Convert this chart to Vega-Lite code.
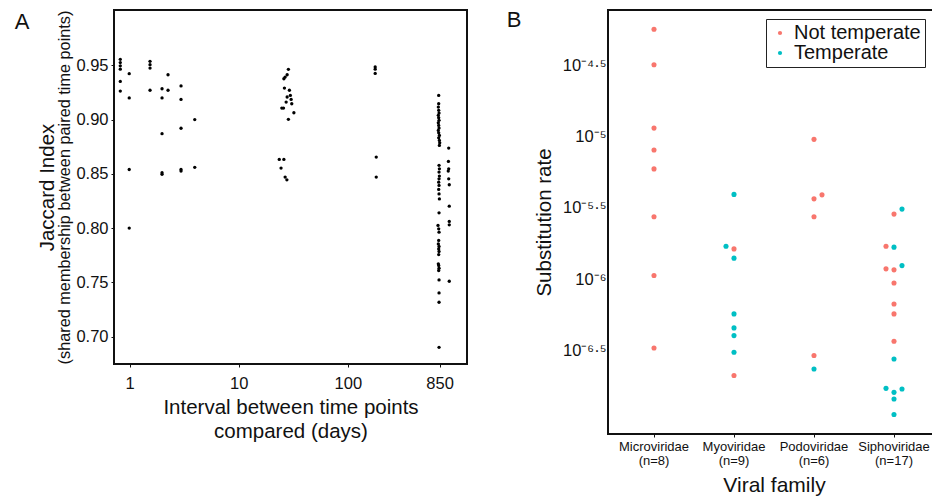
{
  "$schema": "https://vega.github.io/schema/vega-lite/v6.json",
  "background": "white",
  "padding": {"left": 13, "top": 8, "right": 0, "bottom": 0},
  "spacing": 37,
  "resolve": {"legend": {"color": "independent"}, "scale": {"color": "independent"}},
  "config": {
    "font": "Liberation Sans",
    "view": {"stroke": "#111", "strokeWidth": 2},
    "axis": {"grid": false, "domain": false, "tickColor": "#111", "labelColor": "#111", "titleColor": "#111", "titleFontWeight": "normal"},
    "title": {"fontWeight": "normal", "color": "#111"}
  },
  "datasets": {
    "jaccard": [
      {"days": 0.82, "jaccard": 0.9555}, {"days": 0.82, "jaccard": 0.9525}, {"days": 0.82, "jaccard": 0.9495}, {"days": 0.82, "jaccard": 0.9465}, {"days": 0.82, "jaccard": 0.9352}, {"days": 0.82, "jaccard": 0.9263},
      {"days": 0.99, "jaccard": 0.9423}, {"days": 0.99, "jaccard": 0.92}, {"days": 0.99, "jaccard": 0.854}, {"days": 0.99, "jaccard": 0.8},
      {"days": 1.536, "jaccard": 0.9537}, {"days": 1.536, "jaccard": 0.9506}, {"days": 1.536, "jaccard": 0.9475}, {"days": 1.536, "jaccard": 0.927},
      {"days": 1.979, "jaccard": 0.9284}, {"days": 1.979, "jaccard": 0.92}, {"days": 1.979, "jaccard": 0.887}, {"days": 1.979, "jaccard": 0.851}, {"days": 1.979, "jaccard": 0.8495},
      {"days": 2.246, "jaccard": 0.9413}, {"days": 2.246, "jaccard": 0.927},
      {"days": 2.955, "jaccard": 0.931}, {"days": 2.955, "jaccard": 0.9186}, {"days": 2.955, "jaccard": 0.892}, {"days": 2.955, "jaccard": 0.854}, {"days": 2.955, "jaccard": 0.8525},
      {"days": 3.947, "jaccard": 0.9}, {"days": 3.947, "jaccard": 0.856},
      {"days": 28.5, "jaccard": 0.9463}, {"days": 27.75, "jaccard": 0.9413}, {"days": 26.6, "jaccard": 0.9392}, {"days": 25.9, "jaccard": 0.9376}, {"days": 26.2, "jaccard": 0.929},
      {"days": 29.1, "jaccard": 0.927}, {"days": 29.7, "jaccard": 0.9223}, {"days": 27.75, "jaccard": 0.9208}, {"days": 30.2, "jaccard": 0.9186}, {"days": 27.17, "jaccard": 0.9161},
      {"days": 30.6, "jaccard": 0.9146}, {"days": 24.8, "jaccard": 0.9106}, {"days": 25.7, "jaccard": 0.9106}, {"days": 32.0, "jaccard": 0.9063}, {"days": 28.5, "jaccard": 0.9002},
      {"days": 23.5, "jaccard": 0.8633}, {"days": 25.9, "jaccard": 0.8633}, {"days": 24.4, "jaccard": 0.8553}, {"days": 26.6, "jaccard": 0.847}, {"days": 27.6, "jaccard": 0.8445},
      {"days": 178, "jaccard": 0.9485}, {"days": 178, "jaccard": 0.9465}, {"days": 178, "jaccard": 0.9425}, {"days": 182, "jaccard": 0.8654}, {"days": 182, "jaccard": 0.847},
      {"days": 680, "jaccard": 0.9223}, {"days": 680, "jaccard": 0.9146}, {"days": 675, "jaccard": 0.9115}, {"days": 680, "jaccard": 0.9085}, {"days": 685, "jaccard": 0.906},
      {"days": 675, "jaccard": 0.9039}, {"days": 680, "jaccard": 0.9017}, {"days": 685, "jaccard": 0.8993}, {"days": 675, "jaccard": 0.8971}, {"days": 680, "jaccard": 0.8946},
      {"days": 685, "jaccard": 0.8922}, {"days": 675, "jaccard": 0.89}, {"days": 680, "jaccard": 0.8878}, {"days": 690, "jaccard": 0.8854}, {"days": 680, "jaccard": 0.8832},
      {"days": 690, "jaccard": 0.8808}, {"days": 695, "jaccard": 0.8786}, {"days": 690, "jaccard": 0.8762}, {"days": 685, "jaccard": 0.8578}, {"days": 690, "jaccard": 0.8546},
      {"days": 685, "jaccard": 0.8516}, {"days": 690, "jaccard": 0.8479}, {"days": 685, "jaccard": 0.8454}, {"days": 680, "jaccard": 0.8423}, {"days": 685, "jaccard": 0.8393},
      {"days": 680, "jaccard": 0.8356}, {"days": 685, "jaccard": 0.8315}, {"days": 690, "jaccard": 0.8269}, {"days": 685, "jaccard": 0.814}, {"days": 670, "jaccard": 0.8024},
      {"days": 680, "jaccard": 0.7993}, {"days": 685, "jaccard": 0.7962}, {"days": 680, "jaccard": 0.7886}, {"days": 675, "jaccard": 0.7854}, {"days": 685, "jaccard": 0.783},
      {"days": 680, "jaccard": 0.7808}, {"days": 685, "jaccard": 0.7784}, {"days": 680, "jaccard": 0.7756}, {"days": 675, "jaccard": 0.767}, {"days": 680, "jaccard": 0.7655},
      {"days": 685, "jaccard": 0.763}, {"days": 680, "jaccard": 0.7609}, {"days": 685, "jaccard": 0.7522}, {"days": 685, "jaccard": 0.7402}, {"days": 685, "jaccard": 0.7316},
      {"days": 685, "jaccard": 0.6901},
      {"days": 840, "jaccard": 0.8737}, {"days": 835, "jaccard": 0.8614}, {"days": 840, "jaccard": 0.8546}, {"days": 832, "jaccard": 0.8525}, {"days": 840, "jaccard": 0.8454},
      {"days": 850, "jaccard": 0.8399}, {"days": 850, "jaccard": 0.8202}, {"days": 850, "jaccard": 0.8061}, {"days": 850, "jaccard": 0.803}, {"days": 850, "jaccard": 0.751}
    ],
    "rates": [
      {"family": "Microviridae", "temperate": "Not temperate", "rate": 5.662e-5, "dodge": 0},
      {"family": "Microviridae", "temperate": "Not temperate", "rate": 3.192e-5, "dodge": 0},
      {"family": "Microviridae", "temperate": "Not temperate", "rate": 1.148e-5, "dodge": 0},
      {"family": "Microviridae", "temperate": "Not temperate", "rate": 8.054e-6, "dodge": 0},
      {"family": "Microviridae", "temperate": "Not temperate", "rate": 5.943e-6, "dodge": 0},
      {"family": "Microviridae", "temperate": "Not temperate", "rate": 2.742e-6, "dodge": 0},
      {"family": "Microviridae", "temperate": "Not temperate", "rate": 1.062e-6, "dodge": 0},
      {"family": "Microviridae", "temperate": "Not temperate", "rate": 3.296e-7, "dodge": 0},
      {"family": "Myoviridae", "temperate": "Temperate", "rate": 3.936e-6, "dodge": 0},
      {"family": "Myoviridae", "temperate": "Temperate", "rate": 1.706e-6, "dodge": -1},
      {"family": "Myoviridae", "temperate": "Not temperate", "rate": 1.633e-6, "dodge": 0},
      {"family": "Myoviridae", "temperate": "Temperate", "rate": 1.406e-6, "dodge": 0},
      {"family": "Myoviridae", "temperate": "Temperate", "rate": 5.715e-7, "dodge": 0},
      {"family": "Myoviridae", "temperate": "Temperate", "rate": 4.56e-7, "dodge": 0},
      {"family": "Myoviridae", "temperate": "Temperate", "rate": 4.027e-7, "dodge": 0},
      {"family": "Myoviridae", "temperate": "Temperate", "rate": 3.076e-7, "dodge": 0},
      {"family": "Myoviridae", "temperate": "Not temperate", "rate": 2.113e-7, "dodge": 0},
      {"family": "Podoviridae", "temperate": "Not temperate", "rate": 9.572e-6, "dodge": 0},
      {"family": "Podoviridae", "temperate": "Not temperate", "rate": 3.664e-6, "dodge": 0},
      {"family": "Podoviridae", "temperate": "Not temperate", "rate": 3.908e-6, "dodge": 1},
      {"family": "Podoviridae", "temperate": "Not temperate", "rate": 2.742e-6, "dodge": 0},
      {"family": "Podoviridae", "temperate": "Not temperate", "rate": 2.917e-7, "dodge": 0},
      {"family": "Podoviridae", "temperate": "Temperate", "rate": 2.35e-7, "dodge": 0},
      {"family": "Siphoviridae", "temperate": "Not temperate", "rate": 2.864e-6, "dodge": 0},
      {"family": "Siphoviridae", "temperate": "Temperate", "rate": 3.105e-6, "dodge": 1},
      {"family": "Siphoviridae", "temperate": "Not temperate", "rate": 1.706e-6, "dodge": -1},
      {"family": "Siphoviridae", "temperate": "Temperate", "rate": 1.679e-6, "dodge": 0},
      {"family": "Siphoviridae", "temperate": "Not temperate", "rate": 1.183e-6, "dodge": -1},
      {"family": "Siphoviridae", "temperate": "Not temperate", "rate": 1.164e-6, "dodge": 0},
      {"family": "Siphoviridae", "temperate": "Temperate", "rate": 1.247e-6, "dodge": 1},
      {"family": "Siphoviridae", "temperate": "Not temperate", "rate": 9.419e-7, "dodge": 0},
      {"family": "Siphoviridae", "temperate": "Not temperate", "rate": 6.714e-7, "dodge": 0},
      {"family": "Siphoviridae", "temperate": "Not temperate", "rate": 5.715e-7, "dodge": 0},
      {"family": "Siphoviridae", "temperate": "Not temperate", "rate": 3.673e-7, "dodge": 0},
      {"family": "Siphoviridae", "temperate": "Temperate", "rate": 2.761e-7, "dodge": 0},
      {"family": "Siphoviridae", "temperate": "Temperate", "rate": 1.718e-7, "dodge": -1},
      {"family": "Siphoviridae", "temperate": "Temperate", "rate": 1.611e-7, "dodge": 0},
      {"family": "Siphoviridae", "temperate": "Temperate", "rate": 1.698e-7, "dodge": 1},
      {"family": "Siphoviridae", "temperate": "Temperate", "rate": 1.445e-7, "dodge": 0},
      {"family": "Siphoviridae", "temperate": "Temperate", "rate": 1.125e-7, "dodge": 0}
    ]
  },
  "hconcat": [
    {
      "width": 353,
      "height": 354,
      "title": {"text": "A", "orient": "left", "angle": 0, "anchor": "end", "frame": "group", "align": "right", "baseline": "top", "fontSize": 22, "offset": -7, "dy": 2},
      "data": {"name": "jaccard"},
      "layer": [
        {
          "mark": {"type": "point", "filled": true, "color": "black", "size": 11, "opacity": 1},
          "encoding": {
            "x": {
              "field": "days", "type": "quantitative",
              "scale": {"type": "log", "domain": [0.718, 1236], "nice": false},
              "axis": {
                "values": [1, 10, 100, 692.4],
                "labelExpr": "datum.value > 500 ? '850' : format(datum.value, 'd')",
                "title": ["Interval between time points", "compared (days)"],
                "titleFontSize": 20.5, "titleLineHeight": 24, "titlePadding": 6,
                "labelFontSize": 16.5, "tickSize": 3, "labelPadding": 8
              }
            },
            "y": {
              "field": "jaccard", "type": "quantitative",
              "scale": {"domain": [0.6747, 1.001], "nice": false, "zero": false},
              "axis": {
                "values": [0.7, 0.75, 0.8, 0.85, 0.9, 0.95],
                "format": ".2f",
                "title": "(shared membership between paired time points)",
                "titleFontSize": 16.3, "titlePadding": 3,
                "labelFontSize": 16.5, "tickSize": 3, "labelPadding": 3
              }
            }
          }
        },
        {
          "mark": {"type": "point", "opacity": 0},
          "encoding": {
            "x": {"field": "days", "type": "quantitative"},
            "y": {
              "field": "jaccard", "type": "quantitative",
              "axis": {"orient": "left", "labels": false, "ticks": false, "domain": false, "title": "Jaccard Index", "titleFontSize": 20.5, "titlePadding": 57}
            }
          }
        }
      ],
      "resolve": {"axis": {"y": "independent"}}
    },
    {
      "width": 326,
      "height": 424,
      "title": {"text": "B", "orient": "left", "angle": 0, "anchor": "end", "frame": "group", "align": "right", "baseline": "top", "fontSize": 22, "offset": -2, "dy": 0},
      "data": {"name": "rates"},
      "mark": {"type": "point", "filled": true, "size": 26, "opacity": 1},
      "encoding": {
        "x": {
          "field": "family", "type": "nominal",
          "scale": {"type": "band", "range": [38, 294], "paddingInner": 0.8, "paddingOuter": 0},
          "axis": {
            "labelAngle": 0,
            "labelExpr": "[datum.label, datum.label == 'Microviridae' ? '(n=8)' : datum.label == 'Myoviridae' ? '(n=9)' : datum.label == 'Podoviridae' ? '(n=6)' : '(n=17)']",
            "labelFontSize": 13, "labelLineHeight": 14, "labelPadding": 3, "tickSize": 3,
            "title": "Viral family", "titleFontSize": 21, "titlePadding": 7
          }
        },
        "xOffset": {"field": "dodge", "type": "quantitative", "scale": {"domain": [-1, 1]}},
        "y": {
          "field": "rate", "type": "quantitative",
          "scale": {"type": "log", "domain": [8.22e-8, 7.73e-5], "nice": false},
          "axis": {
            "values": [3.1623e-5, 1e-5, 3.1623e-6, 1e-6, 3.1623e-7],
            "labelExpr": "datum.value > 2e-5 ? '10⁻⁴·⁵' : datum.value > 5e-6 ? '10⁻⁵' : datum.value > 2e-6 ? '10⁻⁵·⁵' : datum.value > 5e-7 ? '10⁻⁶' : '10⁻⁶·⁵'",
            "ticks": false, "labelPadding": 2, "labelFontSize": 16.5,
            "title": "Substitution rate", "titleFontSize": 20.5, "titlePadding": 8
          }
        },
        "color": {
          "field": "temperate", "type": "nominal",
          "scale": {"domain": ["Not temperate", "Temperate"], "range": ["#F8766D", "#00BFC4"]},
          "legend": {
            "title": null, "orient": "top-right", "offset": 9,
            "fillColor": "white", "strokeColor": "#222", "padding": 4,
            "labelFontSize": 20, "labelColor": "#111", "labelOffset": 4,
            "symbolType": "circle", "symbolSize": 18, "symbolStrokeWidth": 0, "rowPadding": 0
          }
        }
      }
    }
  ]
}
